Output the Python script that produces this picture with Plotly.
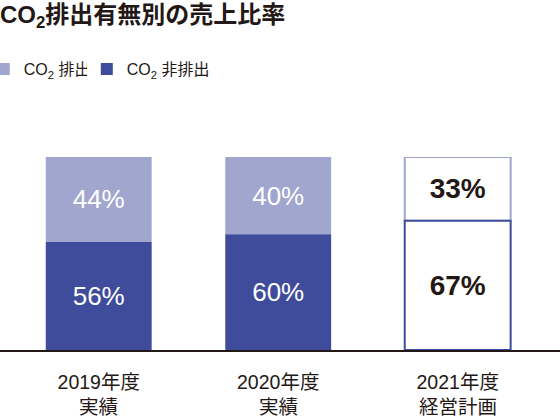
import plotly.graph_objects as go

years = ["2019年度", "2020年度", "2021年度"]
kinds = ["実績", "実績", "経営計画"]
emitting = [44, 40, 33]        # CO2排出
non_emitting = [56, 60, 67]    # CO2非排出
is_plan = [False, False, True]

light = "#a0a6ce"
dark = "#3e4c9b"
ink = "#231815"
font = "Liberation Sans, Arial, Noto Sans CJK JP"


def labels(vals):
    return [f"<b>{v}%</b>" if p else f"{v}%" for v, p in zip(vals, is_plan)]


fig = go.Figure()

# light segment on top (base = dark segment) -- drawn first so the dark top edge wins
fig.add_bar(
    x=years, y=emitting, base=non_emitting, name="CO<sub>2</sub> 排出",
    marker=dict(color=["white" if p else light for p in is_plan],
                line=dict(color=light, width=[2 if p else 0 for p in is_plan])),
    text=labels(emitting), textposition="inside", insidetextanchor="middle",
    textfont=dict(color=[ink if p else "white" for p in is_plan],
                  size=[28 if p else 26 for p in is_plan], family=font),
    width=0.59, hoverinfo="skip", legend="legend", showlegend=True,
)
fig.add_bar(
    x=years, y=non_emitting, name="CO<sub>2</sub> 非排出",
    marker=dict(color=["white" if p else dark for p in is_plan],
                line=dict(color=dark, width=[2 if p else 0 for p in is_plan])),
    text=labels(non_emitting), textposition="inside", insidetextanchor="middle",
    textfont=dict(color=[ink if p else "white" for p in is_plan],
                  size=[28 if p else 26 for p in is_plan], family=font),
    width=0.59, hoverinfo="skip", legend="legend2", showlegend=True,
)

# second line of the category labels
for yr, k in zip(years, kinds):
    fig.add_annotation(x=yr, xref="x", y=0, yref="paper", yshift=-57,
                       text=k, showarrow=False, yanchor="middle",
                       font=dict(size=19.5, color=ink))

legend_style = dict(orientation="h", xanchor="left", y=1.455, yanchor="middle",
                    font=dict(size=16, color=ink), itemclick=False)

fig.update_layout(
    width=560, height=418,
    barmode="overlay",
    showlegend=True,
    margin=dict(l=0, r=0, t=157, b=68, autoexpand=False),
    paper_bgcolor="white", plot_bgcolor="white",
    font=dict(family=font, color=ink),
    title=dict(text="<b>CO<sub>2</sub>排出有無別の売上比率</b>", x=0, xanchor="left",
               y=0.965, yanchor="middle", font=dict(size=24, color=ink)),
    legend=dict(x=-0.029, **legend_style),
    legend2=dict(x=0.155, **legend_style),
)
fig.update_xaxes(range=[-0.55, 2.57], showline=True, linecolor=ink, linewidth=2,
                 showgrid=False, ticks="", ticklabelstandoff=14, automargin=False,
                 tickfont=dict(size=19.5, color=ink))
fig.update_yaxes(range=[0, 100], visible=False)

# drop the browser's default body margin so the figure fills the window
fig.write_html("out.html", config={"displayModeBar": False},
               post_script="document.body.style.margin='0';")
